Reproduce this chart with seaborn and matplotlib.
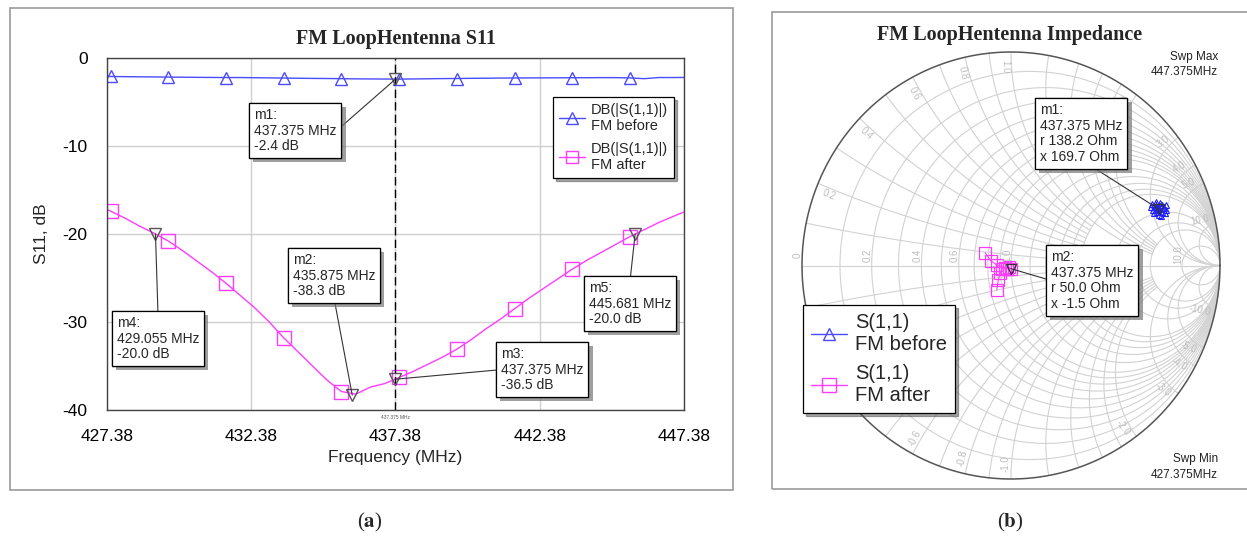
import numpy as np
import matplotlib
matplotlib.use("Agg")
import matplotlib.pyplot as plt
import matplotlib.patheffects as pe
from matplotlib.lines import Line2D
from matplotlib.patches import Rectangle
import seaborn as sns

# ---- data ----
freq = [427.375, 427.5, 428.0, 428.5, 429.0, 429.5, 430.0, 430.5, 431.0, 431.5,
        432.0, 432.5, 433.0, 433.5, 434.0, 434.5, 435.0, 435.5, 436.0, 436.5,
        437.0, 437.5, 438.0, 438.5, 439.0, 439.5, 440.0, 440.5, 441.0, 441.5,
        442.0, 442.5, 443.0, 443.5, 444.0, 444.5, 445.0, 445.5, 446.0, 446.5,
        447.0, 447.375]
s11_before = [-2.10, -2.10, -2.12, -2.14, -2.15, -2.17, -2.18, -2.20, -2.21, -2.22,
              -2.22, -2.24, -2.26, -2.28, -2.30, -2.32, -2.33, -2.35, -2.37, -2.38,
              -2.39, -2.40, -2.38, -2.36, -2.34, -2.33, -2.31, -2.30, -2.28, -2.27,
              -2.26, -2.26, -2.25, -2.24, -2.24, -2.23, -2.23, -2.26, -2.35, -2.22,
              -2.22, -2.21]
s11_after = [-17.2, -17.4, -18.2, -19.1, -19.9, -20.8, -21.9, -23.1, -24.3, -25.6,
             -27.0, -28.4, -30.0, -31.8, -33.4, -35.0, -36.6, -37.9, -38.2, -37.4,
             -37.0, -36.3, -35.6, -34.8, -34.0, -33.1, -32.0, -30.8, -29.7, -28.5,
             -27.3, -26.2, -25.1, -24.0, -23.0, -22.1, -21.2, -20.3, -19.5, -18.7,
             -18.0, -17.5]
x_ticks = [427.375, 432.375, 437.375, 442.375, 447.375]
x_tick_labels = ["427.38", "432.38", "437.38", "442.38", "447.38"]
y_ticks = [-40, -30, -20, -10, 0]

# markers m1..m5 (freq, dB)
m_freq = [437.375, 435.875, 437.375, 429.055, 445.681]
m_db = [-2.4, -38.3, -36.5, -20.0, -20.0]
m_text = ["m1:\n437.375 MHz\n-2.4 dB", "m2:\n435.875 MHz\n-38.3 dB",
          "m3:\n437.375 MHz\n-36.5 dB", "m4:\n429.055 MHz\n-20.0 dB",
          "m5:\n445.681 MHz\n-20.0 dB"]

# Smith chart traces (reflection coefficient, real / imag)
before_re = [0.690, 0.722, 0.680, 0.740, 0.706, 0.672, 0.744, 0.712, 0.686, 0.730,
             0.698, 0.724, 0.676, 0.736, 0.707, 0.694, 0.718]
before_im = [0.276, 0.250, 0.262, 0.284, 0.238, 0.272, 0.258, 0.292, 0.244, 0.270,
             0.252, 0.282, 0.286, 0.246, 0.264, 0.296, 0.234]
after_re = [-0.124, -0.097, -0.065, -0.030, -0.010, 0.000, -0.020, -0.042, -0.053, -0.061, -0.068]
after_im = [0.060, 0.022, 0.001, -0.010, -0.008, -0.015, -0.015, -0.016, -0.037, -0.068, -0.115]
sm_markers = [(0.707, 0.264), (0.000, -0.015)]
sm_text = ["m1:\n437.375 MHz\nr 138.2 Ohm\nx 169.7 Ohm",
           "m2:\n437.375 MHz\nr 50.0 Ohm\nx -1.5 Ohm"]

BLUE = "#4a4aff"
MAG = "#ff3cff"

sns.set_theme(style="white")
plt.rcParams["font.family"] = ["Liberation Sans", "DejaVu Sans"]
plt.rcParams["mathtext.fontset"] = "stix"
plt.rcParams["axes.unicode_minus"] = False

W, H = 1247, 540
fig = plt.figure(figsize=(W / 100, H / 100), dpi=100)


def fx(px):
    return px / W


def fy(py):
    return 1 - py / H


def shadow_box(t):
    t.get_bbox_patch().set_path_effects(
        [pe.withSimplePatchShadow(offset=(3, -3), shadow_rgbFace="#777777", alpha=0.7), pe.Normal()])


# panel frames
fig.add_artist(Rectangle((fx(10), fy(490)), fx(723), 482 / H, transform=fig.transFigure,
                         fill=False, ec="#9a9a9a", lw=1.2))
fig.add_artist(Rectangle((fx(772), fy(489)), fx(490), 477 / H, transform=fig.transFigure,
                         fill=False, ec="#9a9a9a", lw=1.2))

# ---------------- (a) S11 ----------------
ax = fig.add_axes([fx(107), fy(410), fx(577), 352 / H])
sns.lineplot(x=freq, y=s11_before, ax=ax, color=BLUE, lw=1, marker="^", markersize=9,
             markerfacecolor="none", markeredgecolor=BLUE, markeredgewidth=1,
             markevery=list(range(1, 41, 4)), estimator=None, sort=False)
sns.lineplot(x=freq, y=s11_after, ax=ax, color=MAG, lw=1, marker="s", markersize=10,
             markerfacecolor="none", markeredgecolor=MAG, markeredgewidth=1,
             markevery=list(range(1, 41, 4)), estimator=None, sort=False)
ax.set_xlim(427.375, 447.375)
ax.set_ylim(-40, 0)
ax.set_xticks(x_ticks)
ax.set_xticklabels(x_tick_labels)
ax.set_yticks(y_ticks)
ax.tick_params(labelsize=12.5, pad=14, length=0, colors="black")
ax.grid(True, color="#d0d0d0", lw=1)
for s in ax.spines.values():
    s.set_color("#444444")
    s.set_linewidth(1)
ax.set_xlabel("Frequency (MHz)", fontsize=12.5, labelpad=4)
ax.set_ylabel("S11, dB", fontsize=12.5, labelpad=10)
ax.set_title("FM LoopHentenna S11", fontsize=14.5, fontweight="bold",
             family=["Liberation Serif"], pad=10)
ax.axvline(437.375, color="black", lw=1, ls=(0, (6, 3)))
ax.text(437.375, -40.6, "437.375 MHz", fontsize=3.5, color="#555555", ha="center", va="top")
ax.plot(m_freq, m_db, ls="none", marker="v", markersize=8, markerfacecolor="none",
        markeredgecolor="#555555", markeredgewidth=1)

box_pos = [(0.255, 0.858), (0.322, 0.446), (0.683, 0.179), (0.017, 0.267), (0.835, 0.366)]
relpos = [(1, 0.5), (0.5, 0), (0, 0.5), (0.5, 1), (0.5, 1)]
for i in range(5):
    t = ax.annotate(m_text[i], xy=(m_freq[i], m_db[i]), xytext=box_pos[i],
                    textcoords="axes fraction", ha="left", va="top", fontsize=10,
                    linespacing=1.15,
                    bbox=dict(boxstyle="square,pad=0.35", fc="white", ec="black", lw=0.9),
                    arrowprops=dict(arrowstyle="-", color="#333333", lw=0.8,
                                    shrinkA=0, shrinkB=0, relpos=relpos[i]))
    shadow_box(t)

handles = [Line2D([], [], color=BLUE, lw=1, marker="^", markersize=8, markerfacecolor="none",
                  markeredgecolor=BLUE),
           Line2D([], [], color=MAG, lw=1, marker="s", markersize=9, markerfacecolor="none",
                  markeredgecolor=MAG)]
leg = ax.legend(handles, ["DB(|S(1,1)|)\nFM before", "DB(|S(1,1)|)\nFM after"],
                loc="upper left", bbox_to_anchor=(0.773, 0.889), fontsize=10.5,
                frameon=True, fancybox=False, shadow=True, framealpha=1,
                edgecolor="black", handlelength=1.8, handletextpad=0.4,
                borderpad=0.4, labelspacing=0.6, borderaxespad=0)
leg.get_frame().set_linewidth(0.9)

# ---------------- (b) Smith chart ----------------
sx = fig.add_axes([fx(802), fy(479), fx(418), 427 / H])
sx.set_xlim(-1, 1)
sx.set_ylim(-1, 1)
sx.axis("off")

grid_kw = dict(color="#d2d2d2", lw=0.8, zorder=0)
th = np.linspace(0, 2 * np.pi, 400)
r_vals = [0.1, 0.2, 0.3, 0.4, 0.5, 0.6, 0.7, 0.8, 0.9, 1.0, 1.2, 1.4, 1.6, 1.8, 2.0,
          3.0, 4.0, 5.0, 10.0]
for r in r_vals:
    sx.plot(r / (1 + r) + np.cos(th) / (1 + r), np.sin(th) / (1 + r), **grid_kw)
for xv in r_vals:
    r_max = 2.0 if xv < 1 else (5.0 if xv <= 2 else 1e3)
    rr = np.tan(np.linspace(0, np.arctan(r_max), 400))
    for sgn in (1, -1):
        g = (rr + 1j * sgn * xv - 1) / (rr + 1j * sgn * xv + 1)
        sx.plot(g.real, g.imag, **grid_kw)
sx.plot([-1, 1], [0, 0], **grid_kw)
sx.plot(np.cos(th), np.sin(th), color="#555555", lw=1.1, zorder=1, clip_on=False)

lab_kw = dict(color="#bdbdbd", fontsize=7, ha="center", va="center", rotation_mode="anchor")
for xv in [0.2, 0.4, 0.6, 0.8, 1.0, 2.0, 3.0, 4.0, 5.0, 10.0]:
    for sgn in (1, -1):
        a = np.pi - 2 * np.arctan(xv)
        a = sgn * a
        rot = np.degrees(a) - 180 if xv <= 1 else np.degrees(a)
        txt = "%.1f" % xv if sgn > 0 else "-%.1f" % xv
        sx.text(0.93 * np.cos(a + sgn * 0.03), 0.93 * np.sin(a + sgn * 0.03), txt,
                rotation=rot, **lab_kw)
for r in [0.0, 0.2, 0.4, 0.6, 1.0, 10.0]:
    sx.text((r - 1) / (r + 1) - 0.02, 0.05, "0" if r == 0 else "%.1f" % r,
            rotation=90, **lab_kw)

sns.lineplot(x=before_re, y=before_im, ax=sx, color="#2020ff", lw=0.8, marker="^",
             markersize=5, markerfacecolor="none", markeredgecolor="#2020ff",
             markeredgewidth=0.8, estimator=None, sort=False)
sns.lineplot(x=after_re, y=after_im, ax=sx, color=MAG, lw=0.8, marker="s",
             markersize=8, markerfacecolor="none", markeredgecolor=MAG,
             markeredgewidth=0.9, estimator=None, sort=False)
sx.plot([p[0] for p in sm_markers], [p[1] for p in sm_markers], ls="none", marker="v",
        markersize=7, markerfacecolor="none", markeredgecolor="#333333", markeredgewidth=1)

sm_box = [(fx(1040), fy(103)), (fx(1051), fy(250))]
sm_rel = [(0.58, 0), (0, 0.5)]
for i in range(2):
    t = sx.annotate(sm_text[i], xy=sm_markers[i], xytext=sm_box[i],
                    textcoords="figure fraction", ha="left", va="top", fontsize=10,
                    linespacing=1.15,
                    bbox=dict(boxstyle="square,pad=0.35", fc="white", ec="black", lw=0.9),
                    arrowprops=dict(arrowstyle="-", color="#333333", lw=0.8,
                                    shrinkA=0, shrinkB=0, relpos=sm_rel[i]))
    shadow_box(t)

handles2 = [Line2D([], [], color=BLUE, lw=1, marker="^", markersize=9, markerfacecolor="none",
                   markeredgecolor=BLUE),
            Line2D([], [], color=MAG, lw=1, marker="s", markersize=10, markerfacecolor="none",
                   markeredgecolor=MAG)]
leg2 = sx.legend(handles2, ["S(1,1)\nFM before", "S(1,1)\nFM after"],
                 loc="upper left", bbox_to_anchor=(fx(803), fy(305)),
                 bbox_transform=fig.transFigure, fontsize=14.5,
                 frameon=True, fancybox=False, shadow=True, framealpha=1,
                 edgecolor="black", handlelength=1.8, handletextpad=0.4,
                 borderpad=0.4, labelspacing=0.5, borderaxespad=0)
leg2.get_frame().set_linewidth(0.9)

fig.text(fx(1010), fy(35), "FM LoopHentenna Impedance", fontsize=14.5, fontweight="bold",
         family=["Liberation Serif"], ha="center", va="center")
fig.text(fx(1218), fy(57), "Swp Max", fontsize=8.5, ha="right", va="center", color="#222222")
fig.text(fx(1218), fy(72), "447.375MHz", fontsize=8.5, ha="right", va="center", color="#222222")
fig.text(fx(1218), fy(459), "Swp Min", fontsize=8.5, ha="right", va="center", color="#222222")
fig.text(fx(1218), fy(475), "427.375MHz", fontsize=8.5, ha="right", va="center", color="#222222")

fig.text(fx(370), fy(522), r"($\mathbf{a}$)", fontsize=15, ha="center", va="center",
         family=["Liberation Serif"])
fig.text(fx(1010), fy(522), r"($\mathbf{b}$)", fontsize=15, ha="center", va="center",
         family=["Liberation Serif"])

fig.savefig("out.png", dpi=100)
